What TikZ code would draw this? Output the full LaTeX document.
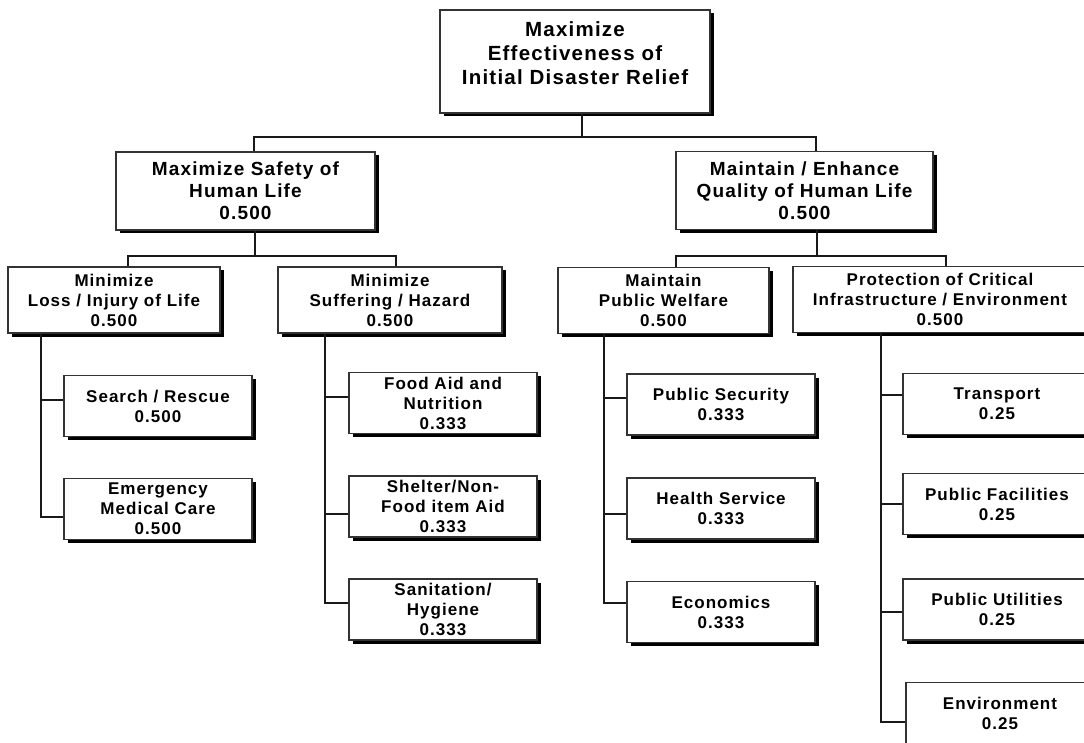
\documentclass[tikz,border=0pt]{standalone}
\usepackage{fontspec}
\setmainfont{Liberation Sans}[LetterSpace=6]
\usetikzlibrary{shadows}

\tikzset{
  box/.style={draw=black!80, line width=1.2pt, fill=white, align=center,
    inner sep=0pt, text=black,
    drop shadow={shadow xshift=3.5pt, shadow yshift=-3.5pt, fill=black, opacity=1}},
  lvone/.style={minimum width=270pt, minimum height=103pt},
  lvonetext/.style={align=center, inner sep=0pt,
    font=\bfseries\fontsize{20.5pt}{24pt}\selectfont},
  lvtwo/.style={minimum height=78pt, font=\bfseries\fontsize{19pt}{22pt}\selectfont},
  lvthree/.style={minimum height=66pt, font=\bfseries\fontsize{17pt}{20pt}\selectfont},
  leaf/.style={minimum width=188pt, minimum height=61pt,
    font=\bfseries\fontsize{17pt}{20pt}\selectfont},
  conn/.style={draw=black!90, line width=2.2pt}
}

\begin{document}
\begin{tikzpicture}[x=1pt, y=-1pt]
\useasboundingbox (0,0) rectangle (1084,743);
\clip (0,0) rectangle (1084,743);
\fill[white] (0,0) rectangle (1084,743);

% root goal
\node[box, lvone] (top) at (575,61.5) {};
\node[lvonetext] (toptext) at (575,53) {Maximize\\Effectiveness of\\Initial Disaster Relief};

% second level
\node[box, lvtwo, minimum width=259pt] (safety) at (245.5,191) {Maximize Safety of\\Human Life\\0.500};
\node[box, lvtwo, minimum width=257pt] (quality) at (804.5,190.5) {Maintain / Enhance\\Quality of Human Life\\0.500};

% third level
\node[box, lvthree, minimum width=212pt] (loss) at (114,300) {Minimize\\Loss / Injury of Life\\0.500};
\node[box, lvthree, minimum width=224pt] (suffering) at (390,300) {Minimize\\Suffering / Hazard\\0.500};
\node[box, lvthree, minimum width=211pt] (welfare) at (663.5,300.5) {Maintain\\Public Welfare\\0.500};
\node[box, lvthree, minimum width=294pt] (protection) at (940,299.5) {Protection of Critical\\Infrastructure / Environment\\0.500};

% leaves
\node[box, leaf] (search) at (158,406) {Search / Rescue\\0.500};
\node[box, leaf] (emergency) at (158,509) {Emergency\\Medical Care\\0.500};
\node[box, leaf] (food) at (443,403) {Food Aid and\\Nutrition\\0.333};
\node[box, leaf] (shelter) at (443,506.5) {Shelter/Non-\\Food item Aid\\0.333};
\node[box, leaf] (sanitation) at (443,609.5) {Sanitation/\\Hygiene\\0.333};
\node[box, leaf] (security) at (721,404.5) {Public Security\\0.333};
\node[box, leaf] (health) at (721,508.5) {Health Service\\0.333};
\node[box, leaf] (economics) at (721,612) {Economics\\0.333};
\node[box, leaf] (transport) at (997,404) {Transport\\0.25};
\node[box, leaf] (facilities) at (997,504) {Public Facilities\\0.25};
\node[box, leaf] (utilities) at (997,609.5) {Public Utilities\\0.25};
\node[box, leaf] (environment) at (1000,713) {Environment\\0.25};

% junctions of the horizontal bars
\coordinate (j0) at (582,137);
\coordinate (jS) at (255,256);
\coordinate (jQ) at (817,256);
% x positions of the leaf spines
\coordinate (kL) at (41,0);
\coordinate (kS) at (325,0);
\coordinate (kW) at (604,0);
\coordinate (kP) at (881,0);

% root to second level
\draw[conn] (top.south -| j0) -- (j0);
\draw[conn] ([xshift=8.5pt]safety.north) |- (j0);
\draw[conn] ([xshift=11.5pt]quality.north) |- (j0);

% second to third level
\draw[conn] (safety.south -| jS) -- (jS);
\draw[conn] ([xshift=14pt]loss.north) |- (jS);
\draw[conn] ([xshift=6pt]suffering.north) |- (jS);
\draw[conn] (quality.south -| jQ) -- (jQ);
\draw[conn] ([xshift=12.5pt]welfare.north) |- (jQ);
\draw[conn] ([xshift=6pt]protection.north) |- (jQ);

% third level to leaves
\draw[conn] ([yshift=6pt]search.west) -| (loss.south -| kL);
\draw[conn] ([yshift=-8pt]emergency.west) -| (loss.south -| kL);

\draw[conn] ([yshift=6pt]food.west) -| (suffering.south -| kS);
\draw[conn] ([yshift=-7.5pt]shelter.west) -| (suffering.south -| kS);
\draw[conn] ([yshift=6.5pt]sanitation.west) -| (suffering.south -| kS);

\draw[conn] ([yshift=6.5pt]security.west) -| (welfare.south -| kW);
\draw[conn] ([yshift=-5.5pt]health.west) -| (welfare.south -| kW);
\draw[conn] ([yshift=9pt]economics.west) -| (welfare.south -| kW);

\draw[conn] ([yshift=9pt]transport.west) -| (protection.south -| kP);
\draw[conn] (facilities.west) -| (protection.south -| kP);
\draw[conn] ([yshift=-2.5pt]utilities.west) -| (protection.south -| kP);
\draw[conn] ([yshift=-9pt]environment.west) -| (protection.south -| kP);
\end{tikzpicture}
\end{document}
